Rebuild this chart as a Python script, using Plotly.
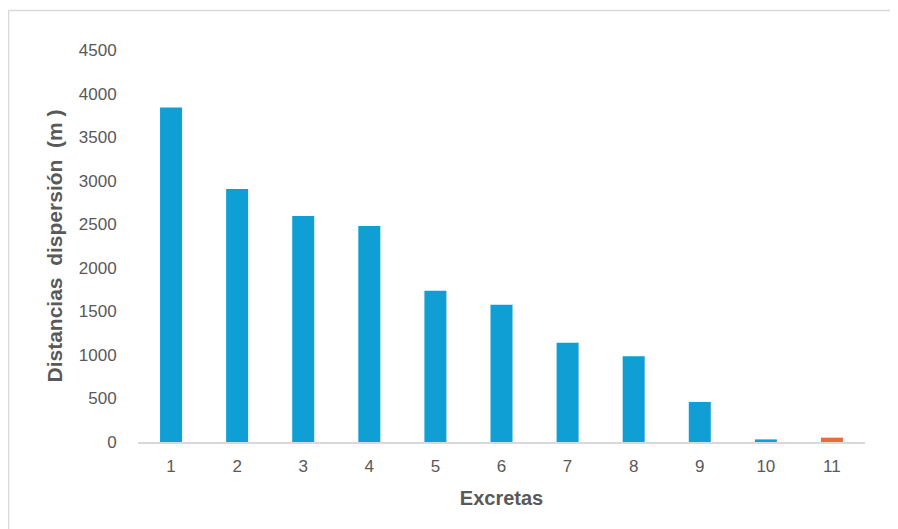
import plotly.graph_objects as go

categories = ["1", "2", "3", "4", "5", "6", "7", "8", "9", "10", "11"]
distancias = [3840, 2905, 2595, 2480, 1735, 1575, 1140, 985, 460, 30, 50]
bar_colors = ["#109fd4"] * 10 + ["#ed6b35"]
y_ticks = [0, 500, 1000, 1500, 2000, 2500, 3000, 3500, 4000, 4500]

fig = go.Figure(go.Bar(
    x=categories, y=distancias,
    marker=dict(color=bar_colors, line=dict(width=0)),
))

# the page body has an 8px margin, so figure coords = screen coords - 8
W, H = 890, 521
L, R, T, B = 130, 33, 42, 87
pw, ph = W - L - R, H - T - B

x_title_font = dict(family="Liberation Sans, Arial, sans-serif", size=20,
                    color="#595959", weight="bold")
y_title_font = dict(family="Liberation Sans, Arial, sans-serif", size=21,
                    color="#595959", weight="bold")

fig.update_layout(
    width=W, height=H,
    margin=dict(l=L, r=R, t=T, b=B),
    paper_bgcolor="white", plot_bgcolor="white",
    bargap=0.667,
    showlegend=False,
    font=dict(family="Liberation Sans, Arial, sans-serif", color="#595959", size=17),
    xaxis=dict(
        type="category",
        showline=True, linecolor="#d9d9d9", linewidth=2,
        ticks="outside", ticklen=8, tickcolor="rgba(0,0,0,0)",
        showgrid=False, zeroline=False,
        tickfont=dict(size=17),
        title=dict(text="Excretas", standoff=16, font=x_title_font),
    ),
    yaxis=dict(
        range=[0, 4500], tickvals=y_ticks,
        showline=False, showgrid=False, zeroline=False,
        ticks="outside", ticklen=17, tickcolor="rgba(0,0,0,0)",
        tickfont=dict(size=17),
        title=dict(text="Distancias  dispersión  (m )", standoff=10, font=y_title_font),
    ),
    shapes=[
        dict(type="line", xref="paper", yref="paper",
             x0=(0.5 - L) / pw, x1=(0.5 - L) / pw,
             y0=(H - B - 2.5) / ph, y1=(H - B - H - 10) / ph,
             line=dict(color="#d9d9d9", width=1.5)),
        dict(type="line", xref="paper", yref="paper",
             x0=(0.5 - L) / pw, x1=(W + 10 - L) / pw,
             y0=(H - B - 2.5) / ph, y1=(H - B - 2.5) / ph,
             line=dict(color="#d9d9d9", width=1.5)),
    ],
)

fig.write_html("out.html")
